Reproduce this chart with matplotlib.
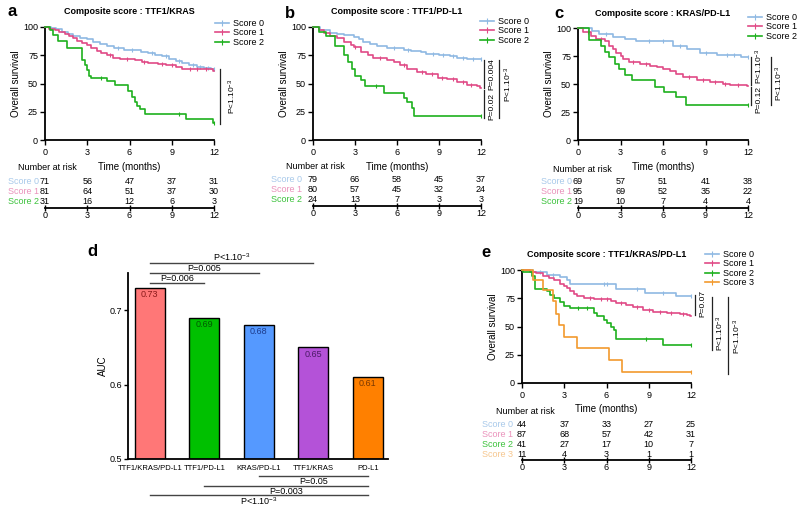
import matplotlib
matplotlib.use('Agg')
import matplotlib.pyplot as plt
from matplotlib.lines import Line2D
import numpy as np

plt.rcParams['font.family'] = ['Liberation Sans', 'DejaVu Sans']
plt.rcParams['mathtext.fontset'] = 'custom'
plt.rcParams['mathtext.rm'] = 'Liberation Sans'
plt.rcParams['mathtext.it'] = 'Liberation Sans:italic'
plt.rcParams['mathtext.bf'] = 'Liberation Sans:bold'

# ---------------- data ----------------
time_ticks = [0, 3, 6, 9, 12]
score_names = ['Score 0', 'Score 1', 'Score 2', 'Score 3']

# panel a : TTF1/KRAS  (event times in months, survival % after each event, censor times)
a_t0 = [0.4, 0.8, 1.2, 1.6, 2.0, 2.5, 3.0, 3.4, 3.9, 4.4, 4.9, 5.6, 6.8, 7.3, 7.8, 8.3, 8.8, 9.3, 9.7, 10.2, 10.8, 11.3, 11.8]
a_s0 = [99, 98, 96, 94, 92, 90, 89, 87, 85, 83, 81, 80, 78, 77, 75, 74, 72, 70, 68, 66, 65, 64, 63]
a_c0 = [5.2, 6.2, 7.6, 8.6, 9.5, 10.5, 11.0, 11.6, 12.0]
a_t1 = [0.3, 0.7, 1.0, 1.4, 1.7, 2.0, 2.3, 2.6, 3.0, 3.3, 3.7, 4.0, 4.4, 4.8, 5.3, 6.4, 6.9, 7.3, 8.0, 8.6, 9.3, 9.7, 11.9]
a_s1 = [98, 97, 96, 94, 92, 90, 88, 86, 84, 81, 79, 77, 75, 73, 72, 71, 69, 68, 67, 66, 65, 63, 61]
a_c1 = [4.6, 5.8, 7.0, 8.3, 9.0, 10.3, 10.8, 11.4]
a_t2 = [0.36, 0.6, 0.95, 1.54, 2.6, 2.85, 3.0, 3.15, 3.3, 4.4, 5.0, 5.9, 6.2, 6.4, 6.5, 6.75, 7.1, 10.0, 11.95]
a_s2 = [97, 93, 88, 81, 71, 66, 62, 57, 55, 52, 49, 43, 38, 34, 30, 27, 23, 19, 15]
a_c2 = [4.0, 9.5, 12.0]
a_risk = [[71, 56, 47, 37, 31], [81, 64, 51, 37, 30], [31, 16, 12, 6, 3]]

# panel b : TTF1/PD-L1
b_t0 = [0.5, 1.2, 1.7, 2.2, 2.9, 3.3, 3.6, 4.1, 4.6, 5.3, 6.5, 7.0, 7.7, 8.1, 9.0, 9.8, 10.3, 11.0]
b_s0 = [97, 95, 94, 93, 91, 89, 87, 85, 83, 81, 80, 79, 78, 76, 75, 74, 73, 72]
b_c0 = [5.8, 6.8, 8.6, 9.3, 10.0, 10.7, 11.4, 12.0]
b_t1 = [0.4, 0.8, 1.2, 1.7, 2.2, 2.7, 2.9, 3.4, 3.9, 4.3, 5.3, 5.8, 6.2, 6.7, 7.4, 8.1, 8.9, 9.6, 10.3, 11.0, 11.7, 11.95]
b_s1 = [97, 95, 92, 90, 87, 84, 82, 78, 75, 73, 71, 69, 66, 63, 60, 58, 55, 54, 51, 49, 48, 46]
b_c1 = [3.0, 4.8, 6.5, 7.8, 8.5, 9.2, 10.0, 10.7, 11.3]
b_t2 = [0.4, 0.9, 1.6, 2.2, 2.5, 2.8, 3.0, 3.4, 3.7, 5.05, 6.5, 6.7, 7.05, 7.2]
b_s2 = [96, 92, 83, 75, 69, 63, 57, 53, 48, 42, 37, 34, 28, 21]
b_c2 = [4.5, 12.0]
b_risk = [[79, 66, 58, 45, 37], [80, 57, 45, 32, 24], [24, 13, 7, 3, 3]]

# panel c : KRAS/PD-L1
c_t0 = [1.0, 1.5, 2.5, 3.3, 4.1, 6.7, 7.7, 8.6, 9.8, 11.5]
c_s0 = [97, 95, 92, 90, 88, 84, 81, 78, 76, 74]
c_c0 = [2.0, 5.0, 6.0, 7.2, 9.0, 10.5, 11.0, 12.0]
c_t1 = [0.35, 0.95, 1.3, 1.9, 2.2, 2.5, 2.7, 3.0, 3.2, 3.6, 4.35, 5.1, 5.6, 6.0, 6.5, 6.9, 7.4, 8.4, 9.3, 10.2, 10.7, 11.9]
c_s1 = [96, 93, 90, 88, 84, 81, 78, 75, 72, 70, 68, 66, 65, 63, 62, 59, 56, 54, 52, 50, 49, 48]
c_c1 = [0.7, 1.6, 3.9, 4.8, 7.8, 8.8, 9.7, 10.4, 11.3]
c_t2 = [0.8, 1.6, 1.9, 2.2, 2.6, 2.9, 3.3, 3.8, 5.4, 6.1, 6.9, 7.6]
c_s2 = [89, 84, 79, 74, 68, 63, 58, 54, 47, 43, 38, 31]
c_c2 = [12.0]
c_risk = [[69, 57, 51, 41, 38], [95, 69, 52, 35, 22], [19, 10, 7, 4, 4]]

# panel d : AUC
d_labels = ['TTF1/KRAS/PD-L1', 'TTF1/PD-L1', 'KRAS/PD-L1', 'TTF1/KRAS', 'PD-L1']
d_auc = [0.73, 0.69, 0.68, 0.65, 0.61]
d_top = [(0, 3, 'P<1.10$^{-3}$'), (0, 2, 'P=0.005'), (0, 1, 'P=0.006')]
d_bottom = [(2, 4, 'P=0.05'), (1, 4, 'P=0.003'), (0, 4, 'P<1.10$^{-3}$')]

# panel e : TTF1/KRAS/PD-L1
e_t0 = [0.8, 1.8, 2.7, 3.2, 3.4, 6.7, 8.75, 10.9]
e_s0 = [98, 96, 94, 91, 88, 83, 80, 77]
e_c0 = [1.3, 2.2, 5.8, 6.0, 8.2, 10.0, 12.0]
e_t1 = [0.6, 1.0, 1.5, 1.9, 2.25, 2.7, 3.0, 3.2, 3.4, 3.7, 3.9, 4.4, 5.1, 6.3, 6.7, 7.4, 7.9, 8.6, 9.3, 10.3, 11.2, 11.7, 11.95]
e_s1 = [98.5, 97, 95, 93, 91, 88, 86, 84, 81, 79, 77, 75, 74, 73, 71, 69, 67, 65, 63, 62, 61, 60, 59]
e_c1 = [4.8, 5.6, 6.0, 7.0, 8.2, 9.0, 9.8, 10.6, 11.4]
e_t2 = [0.1, 0.7, 0.95, 1.8, 2.0, 2.25, 2.7, 2.95, 3.4, 5.1, 5.3, 5.8, 6.0, 6.3, 6.5, 6.7, 10.0]
e_s2 = [98, 95, 83, 81, 78, 75, 72, 68, 66, 62, 59, 56, 53, 50, 47, 39, 34]
e_c2 = [4.0, 4.6, 8.8, 12.0]
e_t3 = [0.8, 1.5, 2.2, 2.4, 2.6, 2.95, 3.9, 6.15, 7.1]
e_s3 = [91, 82, 73, 61, 51, 41, 31, 20, 10]
e_c3 = [12.0]
e_risk = [[44, 37, 33, 27, 25], [87, 68, 57, 42, 31], [41, 27, 17, 10, 7], [11, 4, 3, 1, 1]]

line_colors = ['#8fb9e3', '#e04a86', '#1eb01e', '#f29a2e']
label_colors = ['#a8c9ea', '#ea92bb', '#3cc23c', '#f6c68e']
bar_colors = ['#ff7777', '#00c000', '#5599ff', '#b452d8', '#ff8000']
bar_text_colors = ['#8b1a1a', '#005a00', '#1c3a8a', '#4a1a66', '#7a3800']

# ---------------- figure ----------------
W, H = 800, 509
fig = plt.figure(figsize=(8, 5.09), dpi=100)


def add_ax(l, t, r, b):
    return fig.add_axes([l / W, 1 - b / H, (r - l) / W, (b - t) / H])


def km(ax, times, surv, color, cens):
    t = np.r_[0, times, 12]
    s = np.r_[100, surv, surv[-1]]
    ax.step(t, s, where='post', color=color, lw=1.2, clip_on=False, zorder=3)
    idx = np.searchsorted(t, cens, side='right') - 1
    ax.plot(cens, s[idx], ls='none', marker='|', ms=3.5, mew=0.8, color=color,
            clip_on=False, zorder=3)


def km_axes(l, t, r, b, title, tpad=9):
    ax = add_ax(l, t, r, b)
    ax.set_xlim(0, 12)
    ax.set_ylim(0, 100)
    ax.set_xticks(time_ticks)
    ax.set_yticks([0, 25, 50, 75, 100])
    for sp in ['top', 'right']:
        ax.spines[sp].set_visible(False)
    for sp in ['left', 'bottom']:
        ax.spines[sp].set_linewidth(1.3)
    ax.tick_params(length=3.5, width=1, labelsize=6.5, pad=1.5)
    ax.tick_params(axis='x', pad=2.5)
    ax.set_ylabel('Overall survival', fontsize=7, labelpad=1.5)
    ax.set_xlabel('Time (months)', fontsize=7, labelpad=3)
    ax.set_title(title, fontsize=6.5, fontweight='bold', pad=tpad)
    return ax


def legend(ax, n, x, y):
    handles = [Line2D([], [], color=line_colors[k], lw=1.2, marker='|', ms=4, mew=0.8)
               for k in range(n)]
    ax.legend(handles, score_names[:n], loc='upper left', bbox_to_anchor=(x / W, 1 - y / H),
              bbox_transform=fig.transFigure, frameon=False, fontsize=6.5, numpoints=1,
              handlelength=1.5, handletextpad=0.45, labelspacing=0.05, borderpad=0,
              borderaxespad=0)


def risk(l, r, top, spine, rows, counts, label_px, nar_px, nar_y):
    ax = add_ax(l, top, r, spine)
    ax.set_xlim(0, 12)
    ax.set_ylim(spine, top)
    for sp in ['left', 'right', 'top']:
        ax.spines[sp].set_visible(False)
    ax.spines['bottom'].set_linewidth(1.3)
    ax.set_yticks([])
    ax.set_xticks(time_ticks)
    ax.tick_params(axis='x', direction='inout', length=5, width=1, labelsize=6.5, pad=0)
    ax.patch.set_visible(False)
    mpp = 12.0 / (r - l)
    for k, (y, row) in enumerate(zip(rows, counts)):
        ax.text((label_px - l) * mpp, y, score_names[k], ha='right', va='center',
                color=label_colors[k], fontsize=6.5)
        for x, n in zip(time_ticks, row):
            ax.text(x, y, str(n), ha='center', va='center', fontsize=6.5)
    ax.text((nar_px - l) * mpp, nar_y, 'Number at risk', ha='left', va='center', fontsize=6.5)


def pline(ax, x, y0, y1, tx, ty, label):
    ax.plot([x, x], [y0, y1], color='#222222', lw=0.9, clip_on=False)
    ax.text(tx, ty, label, rotation=90, ha='center', va='center', fontsize=6)


# panel a
ax = km_axes(45, 27, 214, 140, 'Composite score : TTF1/KRAS')
km(ax, a_t0, a_s0, line_colors[0], a_c0)
km(ax, a_t1, a_s1, line_colors[1], a_c1)
km(ax, a_t2, a_s2, line_colors[2], a_c2)
legend(ax, 3, 215, 19)
pline(ax, 12.43, 63, 14, 13.3, 39, 'P<1.10$^{-3}$')
risk(45, 214, 175, 208, [182, 191, 201], a_risk, 39, 18, 168)

# panel b
ax = km_axes(313, 27, 481, 140, 'Composite score : TTF1/PD-L1')
km(ax, b_t0, b_s0, line_colors[0], b_c0)
km(ax, b_t1, b_s1, line_colors[1], b_c1)
km(ax, b_t2, b_s2, line_colors[2], b_c2)
legend(ax, 3, 480, 17)
pline(ax, 12.21, 71, 46, 12.75, 58, 'P=0.004')
pline(ax, 12.21, 44, 19.5, 12.75, 30, 'P=0.02')
pline(ax, 13.3, 71, 19.5, 13.95, 49, 'P<1.10$^{-3}$')
risk(313, 481, 174, 206, [180, 190, 200], b_risk, 302, 286, 167)

# panel c
ax = km_axes(578, 28, 748, 140, 'Composite score : KRAS/PD-L1')
km(ax, c_t0, c_s0, line_colors[0], c_c0)
km(ax, c_t1, c_s1, line_colors[1], c_c1)
km(ax, c_t2, c_s2, line_colors[2], c_c2)
legend(ax, 3, 748, 13)
pline(ax, 12.2, 74, 49, 12.8, 66, 'P<1.10$^{-3}$')
pline(ax, 12.2, 47, 31, 12.8, 36, 'P=0.12')
pline(ax, 13.6, 74, 31, 14.2, 51, 'P<1.10$^{-3}$')
risk(578, 748, 176, 208, [182, 191, 201], c_risk, 572, 553, 169)

# panel d
ax = add_ax(128, 273, 388, 459)
xs = np.arange(len(d_auc))
ax.bar(xs, d_auc, width=0.55, color=bar_colors, edgecolor='black', lw=1)
for xi, v, c in zip(xs, d_auc, bar_text_colors):
    ax.text(xi, v - 0.003, f'{v:.2f}', ha='center', va='top', fontsize=6.5, color=c)
ax.set_xlim(-0.4, 4.37)
ax.set_ylim(0.5, 0.75)
ax.set_yticks([0.5, 0.6, 0.7])
ax.set_xticks(xs)
ax.set_xticklabels(d_labels)
for sp in ['top', 'right']:
    ax.spines[sp].set_visible(False)
for sp in ['left', 'bottom']:
    ax.spines[sp].set_linewidth(1.3)
ax.tick_params(axis='y', length=3, width=1, labelsize=6.5, pad=1)
ax.tick_params(axis='x', length=0, labelsize=5.5, pad=4)
ax.set_ylabel('AUC', fontsize=7, labelpad=1)
for (i, j, lab), y in zip(d_top, [0.763, 0.750, 0.736]):
    ax.plot([i, j], [y, y], color='#444444', lw=1, clip_on=False)
    ax.text((i + j) / 2, y, lab, ha='center', va='bottom', fontsize=6.5)
for (i, j, lab), y in zip(d_bottom, [0.477, 0.4638, 0.4517]):
    ax.plot([i, j], [y, y], color='#444444', lw=1, clip_on=False)
    ax.text((i + j) / 2, y - 0.001, lab, ha='center', va='top', fontsize=6.5)

# panel e
ax = km_axes(522, 270, 691, 383, 'Composite score : TTF1/KRAS/PD-L1', tpad=9.5)
km(ax, e_t0, e_s0, line_colors[0], e_c0)
km(ax, e_t1, e_s1, line_colors[1], e_c1)
km(ax, e_t2, e_s2, line_colors[2], e_c2)
km(ax, e_t3, e_s3, line_colors[3], e_c3)
legend(ax, 4, 705, 250)
pline(ax, 12.28, 78, 60, 12.85, 70, 'P=0.07')
pline(ax, 13.5, 76, 29, 14.07, 44, 'P<1.10$^{-3}$')
pline(ax, 14.6, 76, 8, 15.27, 41, 'P<1.10$^{-3}$')
risk(522, 691, 418, 460, [425, 435, 445, 455], e_risk, 513, 496, 412)

# panel letters
for lab, x, y in [('a', 12, 12), ('b', 290, 13), ('c', 559, 13), ('d', 92, 252), ('e', 486, 253)]:
    fig.text(x / W, 1 - y / H, lab, fontsize=12, fontweight='bold', ha='center', va='center')

fig.savefig('out.png', dpi=100)
